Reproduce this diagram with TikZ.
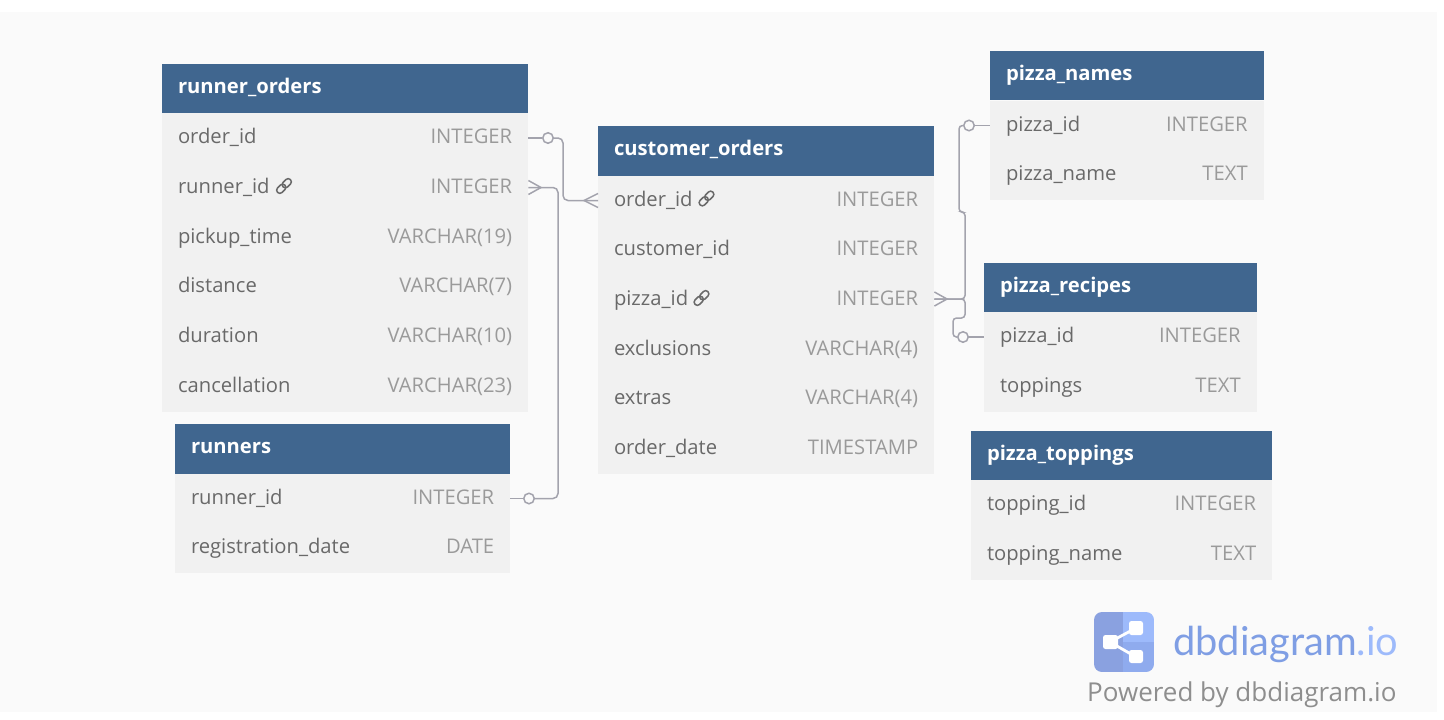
\documentclass[tikz,border=0pt]{standalone}
\usepackage{fontspec}
\setmainfont{Open Sans}
\newfontfamily\logofont{Lato}

\definecolor{pagegray}{HTML}{FAFAFA}
\definecolor{headblue}{HTML}{40668F}
\definecolor{rowgray}{HTML}{F1F1F1}
\definecolor{namegray}{HTML}{696969}
\definecolor{typegray}{HTML}{9A9A9A}
\definecolor{linkgray}{HTML}{A3A3AD}
\definecolor{logoleft}{HTML}{8AA1E0}
\definecolor{logotop}{HTML}{9DBAFB}
\definecolor{logolow}{HTML}{8FABEE}
\definecolor{logotext}{HTML}{7F9EE4}
\definecolor{poweredgray}{HTML}{8E8E8E}

\tikzset{
  headbox/.style={anchor=west,fill=headblue,minimum width=#1pt,minimum height=49.5pt,inner sep=0pt},
  headtext/.style={anchor=west,xshift=15.8pt,yshift=0.5pt,inner sep=0pt,text height=15pt,text depth=5pt,text=white,font=\fontsize{20.2}{24}\selectfont\bfseries},
  rowbox/.style={anchor=west,fill=rowgray,minimum width=#1pt,minimum height=50pt,inner sep=0pt},
  fieldname/.style={anchor=west,xshift=15.8pt,yshift=-0.5pt,inner sep=0pt,text height=15pt,text depth=5pt,text=namegray,font=\fontsize{20.2}{24}\selectfont},
  fieldtype/.style={anchor=east,xshift=-16pt,yshift=-0.5pt,inner sep=0pt,text height=15pt,text depth=5pt,text=typegray,font=\fontsize{20.2}{24}\selectfont},
  link/.style={draw=linkgray,line width=1.5pt,rounded corners=5pt},
  jog/.style={draw=linkgray,line width=1.5pt,rounded corners=3.5pt},
  foot/.style={draw=linkgray,line width=1.5pt},
  ring/.style={circle,draw=linkgray,line width=1.5pt,fill=pagegray,minimum size=10.5pt,inner sep=0pt},
  chainlink/.pic={
    \draw[namegray,line width=1.5pt,rounded corners=3pt,rotate=45] (-9pt,-3.2pt) rectangle (1.2pt,3.2pt);
    \draw[namegray,line width=1.5pt,rounded corners=3pt,rotate=45] (-1.2pt,-3.2pt) rectangle (9pt,3.2pt);
  }
}

\begin{document}
\begin{tikzpicture}[x=1pt,y=-1pt]
  \fill[white] (0,0) rectangle (1444,720);
  \fill[pagegray] (0,12) rectangle (1437,712);

  % tables
  \foreach \id/\x/\y/\w/\ttl in {ro/162/88.5/366/runner\_orders,rn/175/449/335/runners,co/598/151/336/customer\_orders,pn/990/75.5/273.5/pizza\_names,pr/984/287.5/272.5/pizza\_recipes,pt/971/455.5/301/pizza\_toppings}{
    \node[headbox=\w] (\id) at (\x,\y) {};
    \node[headtext] (\id title) at (\id.west) {\ttl};
  }
  \foreach \id/\x/\y/\w/\fld/\typ in {
    ro1/162/138/366/order\_id/INTEGER,
    ro2/162/187.5/366/runner\_id/INTEGER,
    ro3/162/237.5/366/pickup\_time/VARCHAR(19),
    ro4/162/287/366/distance/VARCHAR(7),
    ro5/162/337/366/duration/VARCHAR(10),
    ro6/162/387/366/cancellation/VARCHAR(23),
    rn1/175/498.5/335/runner\_id/INTEGER,
    rn2/175/548/335/registration\_date/DATE,
    co1/598/200.5/336/order\_id/INTEGER,
    co2/598/250/336/customer\_id/INTEGER,
    co3/598/300/336/pizza\_id/INTEGER,
    co4/598/349.5/336/exclusions/VARCHAR(4),
    co5/598/399/336/extras/VARCHAR(4),
    co6/598/449/336/order\_date/TIMESTAMP,
    pn1/990/125.5/273.5/pizza\_id/INTEGER,
    pn2/990/174.5/273.5/pizza\_name/TEXT,
    pr1/984/337/272.5/pizza\_id/INTEGER,
    pr2/984/386.5/272.5/toppings/TEXT,
    pt1/971/505/301/topping\_id/INTEGER,
    pt2/971/554.5/301/topping\_name/TEXT}{
    \node[rowbox=\w] (\id) at (\x,\y) {};
    \node[fieldname] (\id name) at (\id.west) {\fld};
    \node[fieldtype] (\id type) at (\id.east) {\typ};
  }
  \pic at (284,186) {chainlink};
  \pic at (706.5,198.5) {chainlink};
  \pic at (701.5,298) {chainlink};

  % order_id to order_id
  \node[ring] (r1) at (548,138) {};
  \coordinate (j1) at (563,170);
  \coordinate (f1) at (584,200.5);
  \draw[link] (ro1.east) -- (r1);
  \draw[link] (r1) -| (j1) |- (co1.west);
  \draw[foot] ([yshift=7pt]co1.west) -- (f1) -- ([yshift=-7pt]co1.west);

  % runner_id to runner_id
  \node[ring] (r2) at (529,498.5) {};
  \coordinate (j2) at (558,340);
  \coordinate (f2) at (541,187.5);
  \draw[link] (ro2.east) -| (j2) |- (r2);
  \draw[link] (r2) -- (rn1.east);
  \draw[foot] ([yshift=7pt]ro2.east) -- (f2) -- ([yshift=-7pt]ro2.east);

  % pizza_id to pizza_names and pizza_recipes
  \node[ring] (r3) at (969,125.5) {};
  \node[ring] (r4) at (963,337) {};
  \coordinate (j3) at (965,212);
  \coordinate (j4) at (959,170);
  \coordinate (j5) at (965,318);
  \coordinate (j6) at (953,330);
  \coordinate (f3) at (947,299);
  \draw[jog] (co3.east |- f3) -| (j3) -| (j4) |- (r3);
  \draw[link] (r3) -- (pn1.west);
  \draw[jog] (co3.east |- f3) -| (j5) -| (j6) |- (r4);
  \draw[link] (r4) -- (pr1.west);
  \draw[foot] ([yshift=7pt]co3.east |- f3) -- (f3) -- ([yshift=-7pt]co3.east |- f3);

  % logo
  \begin{scope}
    \clip[rounded corners=8pt] (1094,612) rectangle (1154,672);
    \fill[logoleft] (1094,612) rectangle (1123,672);
    \fill[logotop] (1123,612) rectangle (1154,642);
    \fill[logolow] (1123,642) rectangle (1154,672);
  \end{scope}
  \draw[white,line width=2.8pt] (1136,628) -- (1110,642) -- (1136,657);
  \fill[white,rounded corners=2.5pt] (1103,635) rectangle (1118,649);
  \fill[white,rounded corners=2.5pt] (1129,621) rectangle (1143,635);
  \fill[white,rounded corners=2.5pt] (1129,650) rectangle (1143,663);
  \node[anchor=base west,inner sep=0pt,font=\logofont\fontsize{39.8}{44}\selectfont,text=logotext] (logotitle) at (1173,655) {dbdiagram\textcolor{logotop}{.io}};
  \node[anchor=base west,inner sep=0pt,font=\fontsize{26}{30}\selectfont,text=poweredgray] (powered) at (1087,701) {Powered by dbdiagram.io};
\end{tikzpicture}
\end{document}
